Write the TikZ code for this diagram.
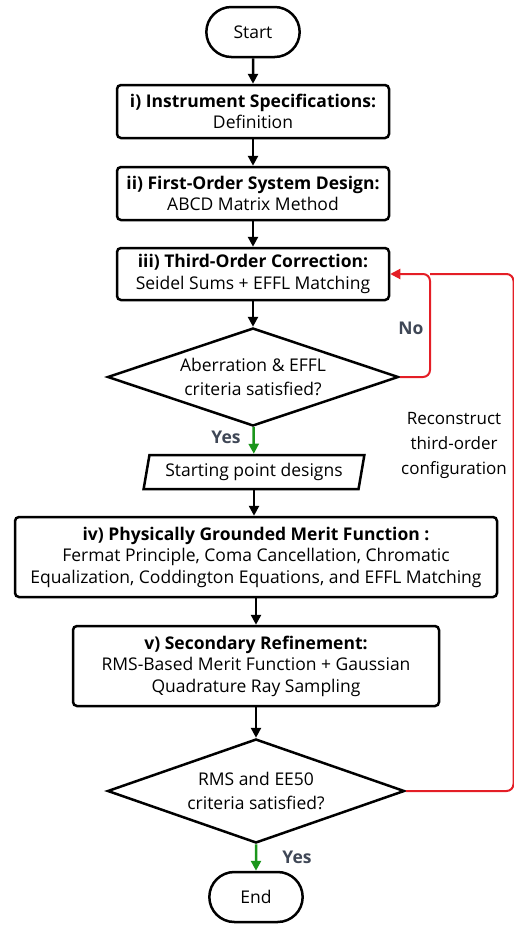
\documentclass[tikz,border=0pt]{standalone}
\usepackage{fontspec}
\setmainfont{Open Sans}
\usetikzlibrary{shapes.geometric,shapes.misc,arrows.meta}
\definecolor{loopred}{HTML}{E41E26}
\definecolor{yesgreen}{HTML}{1B961B}
\definecolor{labelgray}{HTML}{3F4756}
\tikzset{
  startstop/.style={rounded rectangle, draw, line width=2.5pt, minimum width=100pt, minimum height=50pt, font=\fontsize{17.5}{21.5}\selectfont},
  process/.style={rectangle, rounded corners=4pt, draw, line width=2.5pt, align=center, inner sep=0pt, font=\fontsize{17.5}{21.5}\selectfont},
  decision/.style={diamond, aspect=3, draw, line width=2.5pt, align=center, inner sep=0pt, font=\fontsize{17.5}{24}\selectfont},
  iobox/.style={trapezium, trapezium left angle=78, trapezium right angle=102, trapezium stretches=true, draw, line width=2.5pt, minimum width=221pt, minimum height=34pt, font=\fontsize{17.5}{21.5}\selectfont},
  flow/.style={-{Triangle[length=10pt,width=10pt]}, line width=2.5pt},
  yesflow/.style={flow, yesgreen},
  noflow/.style={-{Triangle[length=10pt,width=10pt]}, line width=2pt, loopred, rounded corners=7pt},
  tag/.style={font=\fontsize{17.5}{21.5}\selectfont\bfseries, text=labelgray},
}
\begin{document}
\begin{tikzpicture}[x=1pt,y=-1pt]
\useasboundingbox (0,0) rectangle (514,927);

%手順
\node[startstop] (start) at (253,32) {Start};
\node[process, minimum width=272pt, minimum height=53pt] (spec) at (253,111.5)
  {\textbf{i) Instrument Specifications:}\\Definition};
\node[process, minimum width=272pt, minimum height=53pt] (first) at (253,193.5)
  {\textbf{ii) First-Order System Design:}\\ABCD Matrix Method};
\node[process, minimum width=272pt, minimum height=52pt] (third) at (253,274)
  {\textbf{iii) Third-Order Correction:}\\Seidel Sums + EFFL Matching};
\node[decision, minimum width=291pt, minimum height=98pt] (check1) at (253,377)
  {Aberration \& EFFL\\criteria satisfied?};
\node[iobox] (designs) at (254,472) {Starting point designs};
\node[process, minimum width=482pt, minimum height=80pt] (merit) at (256,557)
  {\textbf{iv) Physically Grounded Merit Function :}\\Fermat Principle, Coma Cancellation, Chromatic\\Equalization, Coddington Equations, and EFFL Matching};
\node[process, minimum width=366pt, minimum height=80pt] (refine) at (256,666)
  {\textbf{v) Secondary Refinement:}\\RMS-Based Merit Function + Gaussian\\Quadrature Ray Sampling};
\node[decision, minimum width=297pt, minimum height=104pt] (check2) at (256,791)
  {RMS and EE50\\criteria satisfied?};
\node[startstop] (end) at (256,897) {End};

%矢印
\draw[flow] (start) -- (spec);
\draw[flow] (spec) -- (first);
\draw[flow] (first) -- (third);
\draw[flow] (third) -- (check1);
\draw[yesflow] (check1) -- (designs);
\draw[flow] (designs.south) -- (designs.south |- merit.north);
\draw[flow] (merit) -- (refine);
\draw[flow] (refine) -- (check2);
\draw[yesflow] (check2) -- (end);

%戻り
\coordinate (back1) at (430,274);
\coordinate (back2) at (513.5,274);
\draw[noflow] (check1.east) -| (back1) -- (third.east);
\draw[noflow, -] (check2.east) -| (back2) -- (back1);

%ラベル
\node[tag] (no) at (411,328) {No};
\node[tag] (yes1) at (226,437) {Yes};
\node[tag] (yes2) at (297,857) {Yes};
\node[align=center, font=\fontsize{17}{25}\selectfont] (note) at (454,445)
  {Reconstruct\\third-order\\configuration};
\end{tikzpicture}
\end{document}
